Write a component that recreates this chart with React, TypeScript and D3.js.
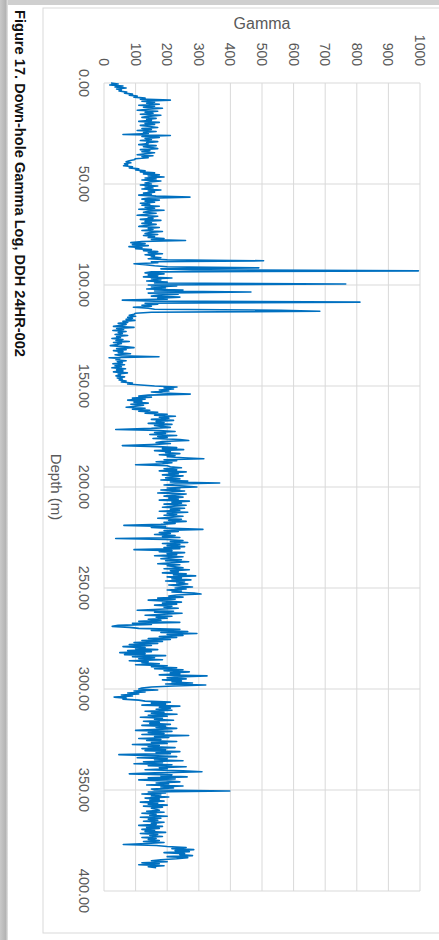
import React from "react";
import * as d3 from "d3";

// Down-hole gamma readings (API units), sampled every 0.5 m from the collar.
const SAMPLE_STEP_M = 0.5;
const GAMMA_READINGS: number[] = [
  // 0 – 9.5 m
  22, 45, 18, 60, 35, 70, 40, 55, 48, 72, 65, 90, 80, 105, 95, 130, 115, 210, 120, 160,
  // 10 – 19.5 m
  135, 175, 110, 160, 125, 185, 140, 105, 170, 130, 155, 115, 180, 140, 120, 165, 135, 150, 110, 175,
  // 20 – 29.5 m
  130, 160, 115, 145, 170, 120, 150, 105, 165, 125, 140, 60, 210, 120, 175, 130, 150, 115, 170, 135,
  // 30 – 39.5 m
  140, 110, 165, 125, 150, 170, 115, 145, 120, 160, 130, 105, 155, 120, 140, 100, 95, 80, 70, 85,
  // 40 – 49.5 m
  65, 75, 62, 90, 80, 110, 100, 130, 115, 160, 125, 175, 140, 190, 130, 165, 120, 180, 145, 130,
  // 50 – 59.5 m
  150, 115, 170, 130, 155, 120, 180, 140, 160, 125, 150, 110, 165, 272, 140, 120, 175, 130, 160, 115,
  // 60 – 69.5 m
  145, 120, 175, 130, 160, 110, 190, 140, 125, 165, 135, 105, 170, 140, 155, 115, 180, 130, 150, 120,
  // 70 – 79.5 m
  165, 135, 110, 175, 140, 155, 120, 185, 145, 130, 170, 125, 160, 140, 190, 150, 258, 120, 85, 130,
  // 80 – 89.5 m
  90, 140, 79, 120, 100, 150, 125, 170, 140, 185, 130, 160, 150, 180, 140, 200, 505, 150, 170, 95,
  // 90 – 99.5 m
  130, 160, 200, 490, 180, 280, 995, 150, 130, 190, 140, 170, 125, 215, 150, 180, 135, 200, 160, 765,
  // 100 – 109.5 m
  140, 230, 150, 195, 135, 250, 160, 465, 140, 235, 180, 150, 240, 170, 200, 58, 160, 810, 130, 170,
  // 110 – 119.5 m
  120, 150, 93, 140, 160, 560, 683, 150, 100, 95, 80, 100, 75, 90, 70, 98, 60, 75, 45, 70,
  // 120 – 129.5 m
  55, 30, 95, 40, 62, 28, 70, 45, 58, 35, 75, 40, 52, 25, 60, 38, 80, 30, 55, 42,
  // 130 – 139.5 m
  20, 65, 95, 40, 70, 30, 60, 45, 84, 35, 55, 174, 16, 50, 38, 70, 42, 58, 28, 65,
  // 140 – 149.5 m
  35, 55, 25, 68, 40, 60, 30, 74, 45, 52, 38, 65, 42, 58, 48, 70, 55, 90, 75, 116,
  // 150 – 159.5 m
  160, 231, 190, 220, 175, 205, 150, 185, 273, 140, 110, 150, 90, 130, 75, 120, 95, 140, 85, 125,
  // 160 – 169.5 m
  100, 70, 130, 90, 145, 110, 170, 130, 200, 160, 226, 175, 205, 150, 220, 165, 190, 140, 215, 160,
  // 170 – 179.5 m
  180, 210, 150, 37, 175, 225, 160, 195, 145, 230, 170, 200, 155, 240, 268, 185, 165, 210, 150, 58,
  // 180 – 189.5 m
  170, 230, 185, 252, 160, 210, 195, 240, 175, 225, 200, 250, 316, 190, 230, 165, 215, 185, 100, 200,
  // 190 – 199.5 m
  210, 245, 190, 230, 175, 260, 205, 235, 185, 250, 215, 195, 240, 180, 265, 210, 366, 225, 190, 255,
  // 200 – 209.5 m
  294, 200, 240, 180, 255, 215, 170, 260, 225, 190, 250, 205, 235, 175, 270, 215, 245, 190, 260, 220,
  // 210 – 219.5 m
  185, 255, 210, 240, 175, 265, 200, 230, 190, 250, 215, 170, 245, 205, 260, 190, 225, 180, 63, 195,
  // 220 – 229.5 m
  150, 215, 313, 190, 235, 175, 210, 160, 225, 185, 240, 37, 195, 250, 210, 265, 185, 240, 200, 255,
  // 230 – 239.5 m
  190, 240, 95, 215, 175, 255, 200, 230, 160, 250, 205, 180, 245, 195, 268, 215, 170, 240, 200, 225,
  // 240 – 249.5 m
  250, 190, 270, 210, 235, 185, 260, 220, 290, 200, 245, 215, 275, 195, 255, 230, 265, 205, 240, 280,
  // 250 – 259.5 m
  225, 260, 200, 245, 215, 285, 307, 230, 205, 250, 170, 225, 140, 200, 245, 185, 230, 160, 215, 190,
  // 260 – 269.5 m
  235, 175, 105, 220, 160, 247, 190, 130, 215, 165, 200, 140, 180, 110, 240, 90, 150, 45, 26, 80,
  // 270 – 279.5 m
  110, 240, 150, 265, 180, 294, 200, 250, 175, 230, 140, 210, 120, 185, 95, 170, 80, 150, 60, 130,
  // 280 – 289.5 m
  100, 170, 75, 150, 50, 130, 65, 195, 90, 160, 110, 185, 80, 140, 120, 175, 100, 200, 150, 230,
  // 290 – 299.5 m
  160, 250, 190, 270, 210, 240, 175, 326, 230, 200, 260, 185, 245, 215, 280, 195, 322, 220, 150, 120,
  // 300 – 309.5 m
  110, 170, 95, 130, 75, 110, 55, 90, 32, 70, 60, 110, 130, 210, 150, 195, 120, 240, 175, 210,
  // 310 – 319.5 m
  165, 215, 130, 190, 150, 231, 140, 200, 115, 185, 160, 220, 125, 175, 145, 210, 120, 195, 165, 230,
  // 320 – 329.5 m
  170, 100, 215, 140, 190, 120, 268, 160, 205, 110, 180, 135, 230, 150, 200, 90, 175, 140, 225, 120,
  // 330 – 339.5 m
  195, 130, 240, 165, 210, 47, 150, 230, 105, 200, 160, 250, 125, 185, 95, 215, 140, 260, 175, 200,
  // 340 – 349.5 m
  130, 250, 310, 160, 80, 215, 180, 263, 140, 225, 110, 195, 240, 165, 205, 135, 250, 180, 220, 150,
  // 350 – 359.5 m
  160, 398, 140, 195, 120, 180, 150, 205, 130, 175, 145, 190, 115, 170, 140, 200, 125, 185, 150, 165,
  // 360 – 369.5 m
  175, 135, 190, 120, 165, 145, 200, 115, 180, 140, 170, 125, 190, 150, 165, 110, 185, 135, 175, 120,
  // 370 – 379.5 m
  160, 130, 195, 115, 170, 145, 185, 120, 165, 140, 175, 125, 190, 135, 61, 165, 200, 260, 215, 284,
  // 380 – 388.5 m
  225, 270, 190, 255, 240, 280, 200, 265, 230, 180, 150, 200, 120, 175, 110, 190, 140, 165,
];

const GAMMA_TICKS = [0, 100, 200, 300, 400, 500, 600, 700, 800, 900, 1000];
const DEPTH_TICKS = [0, 50, 100, 150, 200, 250, 300, 350, 400];
const GAMMA_TITLE = "Gamma";
const DEPTH_TITLE = "Depth (m)";
const CAPTION = "Figure 17. Down-hole Gamma Log, DDH 24HR-002";

const PAGE_W = 439;
const PAGE_H = 940;

export default function App() {
  // The figure is laid out in landscape (depth along X, gamma along Y)
  // and turned a quarter turn clockwise onto the portrait page.
  const depthScale = d3.scaleLinear().domain([0, 400]).range([83, 891]);
  const gammaScale = d3.scaleLinear().domain([0, 1000]).range([335, 19]);

  const samples = GAMMA_READINGS.map((g, i) => ({ depth: i * SAMPLE_STEP_M, gamma: g }));
  const linePath =
    d3
      .line<{ depth: number; gamma: number }>()
      .x((d) => depthScale(d.depth))
      .y((d) => gammaScale(d.gamma))(samples) || "";

  const fmtDepth = d3.format(".2f");
  const font = "'Liberation Sans', Arial, sans-serif";
  const gridColor = "#d9d9d9";
  const labelColor = "#595959";

  return (
    <svg
      width={PAGE_W}
      height={PAGE_H}
      style={{ position: "absolute", left: 0, top: 0, background: "#fff" }}
    >
      <defs>
        <linearGradient id="edgeShade" x1="0" x2="1" y1="0" y2="0">
          <stop offset="0" stopColor="#c9c9c9" />
          <stop offset="0.7" stopColor="#b4b4b4" />
          <stop offset="1" stopColor="#e6e6e6" />
        </linearGradient>
      </defs>
      <rect x={0} y={0} width={PAGE_W} height={PAGE_H} fill="#ffffff" />
      <rect x={0} y={0} width={PAGE_W} height={5} fill="#cfcfcf" />
      <rect x={0} y={0} width={8} height={PAGE_H} fill="url(#edgeShade)" />

      <g transform={`translate(${PAGE_W},0) rotate(90)`}>
        {/* chart frame */}
        <rect x={8} y={-5} width={925} height={401} fill="#fff" stroke={gridColor} strokeWidth={1} />

        {/* gridlines */}
        {GAMMA_TICKS.map((t) => (
          <line
            key={`g${t}`}
            x1={depthScale(0)}
            x2={depthScale(400)}
            y1={gammaScale(t)}
            y2={gammaScale(t)}
            stroke={gridColor}
            strokeWidth={1}
          />
        ))}
        {DEPTH_TICKS.map((t) => (
          <line
            key={`d${t}`}
            x1={depthScale(t)}
            x2={depthScale(t)}
            y1={gammaScale(0)}
            y2={gammaScale(1000)}
            stroke={gridColor}
            strokeWidth={1}
          />
        ))}

        {/* gamma axis labels */}
        {GAMMA_TICKS.map((t) => (
          <text
            key={`gl${t}`}
            x={66}
            y={gammaScale(t)}
            textAnchor="end"
            dominantBaseline="central"
            fontFamily={font}
            fontSize={14}
            fill={labelColor}
          >
            {t}
          </text>
        ))}

        {/* depth axis labels */}
        {DEPTH_TICKS.map((t) => (
          <text
            key={`dl${t}`}
            x={depthScale(t)}
            y={355.5}
            textAnchor="middle"
            dominantBaseline="central"
            fontFamily={font}
            fontSize={14.5}
            fill={labelColor}
          >
            {fmtDepth(t)}
          </text>
        ))}

        {/* axis titles */}
        <text
          transform={`translate(23.5,${(gammaScale(0) + gammaScale(1000)) / 2}) rotate(-90)`}
          textAnchor="middle"
          dominantBaseline="central"
          fontFamily={font}
          fontSize={16}
          fill={labelColor}
        >
          {GAMMA_TITLE}
        </text>
        <text
          x={(depthScale(0) + depthScale(400)) / 2}
          y={383}
          textAnchor="middle"
          dominantBaseline="central"
          fontFamily={font}
          fontSize={15}
          fill={labelColor}
        >
          {DEPTH_TITLE}
        </text>

        {/* gamma trace */}
        <path d={linePath} fill="none" stroke="#0070c0" strokeWidth={1.6} strokeLinejoin="round" />

        {/* caption */}
        <text
          x={10}
          y={419}
          dominantBaseline="central"
          fontFamily={font}
          fontWeight="bold"
          fontSize={14}
          fill="#111"
          textLength={347}
          lengthAdjust="spacingAndGlyphs"
        >
          {CAPTION}
        </text>
      </g>
    </svg>
  );
}
